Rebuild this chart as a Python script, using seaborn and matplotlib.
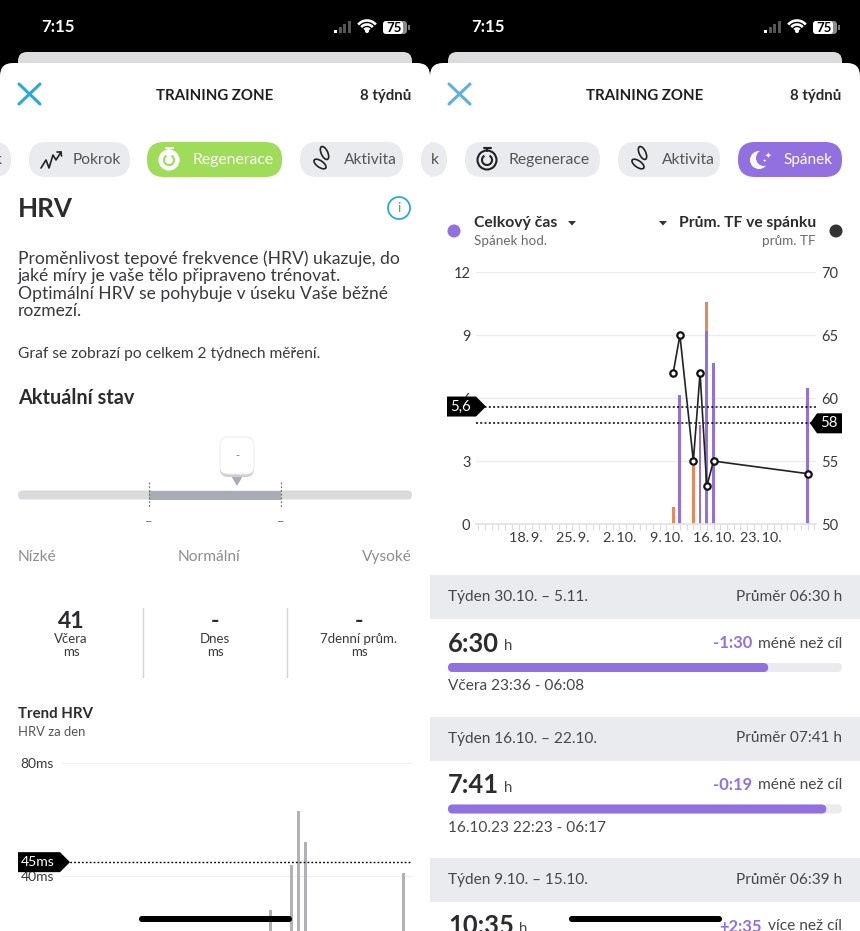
import numpy as np
import pandas as pd
import matplotlib
matplotlib.use("Agg")
import matplotlib.pyplot as plt
import seaborn as sns
from matplotlib.patches import FancyBboxPatch, Circle, Ellipse, Polygon, Arc, Rectangle

# =========================
# Data (day number counted from 11.9.)
# =========================
sleep_days = [29, 30, 32, 33, 34, 35, 49]
sleep_purple = [0, 6.15, 0, 4.7, 9.18, 7.68, 6.5]
sleep_orange = [0.8, 0, 2.77, 0, 1.4, 0, 0]
hr_days = [29, 30, 32, 33, 34, 35, 49]
hr_values = [62, 65, 55, 62, 53, 55, 54]
date_ticks = [7, 14, 21, 28, 35, 42]
date_labels = ["18.\u20099.", "25.\u20099.", "2.\u200910.", "9.\u200910.", "16.\u200910.", "23.\u200910."]
sleep_avg = 5.6
hr_avg = 58

hrv_days = [30, 33, 34, 35, 49]
hrv_values = [28, 44, 63, 52, 41]
hrv_avg = 45

week_labels = ["Týden 30.10. – 5.11.", "Týden 16.10. – 22.10.", "Týden 9.10. – 15.10."]
week_means = ["Průměr 06:30 h", "Průměr 07:41 h", "Průměr 06:39 h"]
week_big = ["6:30", "7:41", "10:35"]
week_diff = ["-1:30", "-0:19", "+2:35"]
week_word = ["méně než cíl", "méně než cíl", "více než cíl"]
week_hours = [6.5, 7.68, 10.58]
week_night = ["Včera 23:36 - 06:08", "16.10.23 22:23 - 06:17", ""]
sleep_goal = 8

W, H = 860, 931
PURPLE = "#9370e0"
ORANGE = "#e8875a"
GREEN = "#9fdc5a"
DARK = "#2c2c2f"
TXT = "#3a3a3d"
GREY = "#8c8e91"
CHIP = "#e9ebef"
GRID = "#ececef"
BLUE = "#2aa9dc"

sns.set_theme(style="white")
plt.rcParams["font.family"] = ["Lato", "DejaVu Sans"]

fig = plt.figure(figsize=(W / 100, H / 100), dpi=100, facecolor="black")


def ax_px(x0, y0, x1, y1):
    return fig.add_axes([x0 / W, 1 - y1 / H, (x1 - x0) / W, (y1 - y0) / H])


def overlay(z):
    a = ax_px(0, 0, W, H)
    a.set_xlim(0, W)
    a.set_ylim(H, 0)
    a.axis("off")
    a.patch.set_alpha(0)
    a.set_zorder(z)
    return a


bg = overlay(0)
fg = overlay(5)


def t(x, y, s, px=14, color=TXT, ha="left", weight="normal", ax=None, z=6):
    return (ax or bg).text(x, y + 1, s, fontsize=px * 0.72, color=color, ha=ha, va="center",
                           fontweight=weight, zorder=z)


def box(x0, y0, x1, y1, r, color, ax=None, z=1, clip=None, ec="none"):
    a = ax or bg
    p = FancyBboxPatch((x0, y0), x1 - x0, y1 - y0, boxstyle=f"round,pad=0,rounding_size={r}",
                       fc=color, ec=ec, lw=0.8, zorder=z)
    a.add_patch(p)
    if clip is not None:
        p.set_clip_path(Rectangle((clip[0], 0), clip[1] - clip[0], H, transform=a.transData))
    return p


def line(xs, ys, color=DARK, lw=1.3, ls="-", z=3, ax=None):
    (ax or bg).plot(xs, ys, color=color, lw=lw, ls=ls, zorder=z, solid_capstyle="round")


def right_end(txt):
    fig.canvas.draw()
    return bg.transData.inverted().transform(txt.get_window_extent().get_points())


# =========================
# Phone frame
# =========================
def phone(ox, xcolor):
    t(ox + 41, 26, "7:15", 16.8, "white", weight="bold")
    for i, (h, c) in enumerate(zip([3, 6, 9, 12], ["white", "#555", "#555", "#555"])):
        bg.add_patch(Rectangle((ox + 334 + i * 4.6, 33 - h), 3, h, fc=c, ec="none"))
    for r in [3.5, 7.5, 11.5]:
        bg.add_patch(Arc((ox + 367, 32), r * 2, r * 2, theta1=220, theta2=320, ec="white", lw=1.9))
    bg.add_patch(Circle((ox + 367, 31), 1.3, fc="white"))
    box(ox + 383, 21, ox + 407, 34, 3.5, "#8a8a8a", z=2)
    box(ox + 383, 21, ox + 403, 34, 3.5, "white", z=2)
    bg.add_patch(Rectangle((ox + 408, 25), 1.5, 5, fc="#777", ec="none"))
    bg.text(ox + 394, 27.5, "75", fontsize=9.5, fontweight="bold", color="black", ha="center", va="center", zorder=3)

    box(ox + 18, 52, ox + 412, 90, 9, "#dcdcde", z=1)
    box(ox, 63, ox + 430, 980, 13, "white", z=1.5)
    line([ox + 19, ox + 40], [84, 104], xcolor, 2.2)
    line([ox + 19, ox + 40], [104, 84], xcolor, 2.2)
    t(ox + 215, 95, "TRAINING ZONE", 15, "#1f1f21", "center", "bold")
    t(ox + 411, 95, "8 týdnů", 15, "#2a2a2c", "right", "bold")

    # home indicator
    box(ox + 139, 916, ox + 292, 922, 3, "black", ax=fg, z=10)


phone(0, BLUE)
phone(430, "#5db1dc")


def stopwatch(x, y, color, bgcolor):
    bg.add_patch(Circle((x, y + 1), 9.5, fc="none" if bgcolor is None else bgcolor, ec=color, lw=1.5, zorder=3))
    bg.add_patch(Arc((x, y + 1), 10, 10, theta1=-60, theta2=240, ec=color if bgcolor is None else GREEN, lw=1.5, zorder=4))
    line([x - 3.5, x + 3.5], [y - 11, y - 11], color, 1.5)
    line([x, x], [y - 11, y - 8], color, 1.5)


def feet(x, y):
    for dx, dy, ang in [(2.5, -6, 65), (-2, 5, 35)]:
        bg.add_patch(Ellipse((x + dx, y + dy), 14, 6.5, angle=ang, fc="none", ec="#222", lw=1.2, zorder=3))


# left phone chips
right_clip = (430, 860)
left_clip = (0, 430)
box(-30, 142, 11, 177, 17, CHIP, z=2)
t(-6, 159, "k", 15.5, "#555")
box(29, 142, 130, 177, 17, CHIP, z=2)
line([41, 46, 49, 53, 56, 61], [168, 160, 168, 155, 160, 152], "#222", 1.2)
line([57, 61, 61.5], [152, 152, 156], "#222", 1.2)
t(73, 159, "Pokrok", 15.5, "#555")
box(147, 142, 282, 177, 17, GREEN, z=2)
stopwatch(169, 159, "white", "white")
t(192, 159, "Regenerace", 15.8, "white")
box(300, 142, 403, 177, 17, CHIP, z=2)
feet(322, 159)
t(344, 159, "Aktivita", 15.5, "#555")
box(421, 142, 460, 177, 17, CHIP, z=2, clip=left_clip)

# right phone chips
box(400, 142, 447, 177, 17, CHIP, z=2, clip=right_clip)
t(431, 159, "k", 15.5, "#555")
box(465, 142, 600, 177, 17, CHIP, z=2)
stopwatch(487, 159, "#222", None)
t(509, 159, "Regenerace", 15.8, "#555")
box(618, 142, 720, 177, 17, CHIP, z=2)
feet(640, 159)
t(662, 159, "Aktivita", 15.5, "#555")
box(738, 142, 842, 177, 17, PURPLE, z=2)
bg.add_patch(Circle((759, 160), 9, fc="white", ec="none", zorder=3))
bg.add_patch(Circle((764, 158), 8, fc=PURPLE, ec="none", zorder=4))
t(768, 154, "✦", 8, "white", "center")
t(765, 160, "✦", 4, "white", "center")
t(783, 159, "Spánek", 15.3, "white")

# =========================
# Left phone content
# =========================
t(18, 208, "HRV", 26, DARK, weight="bold")
bg.add_patch(Circle((399, 208), 11, fc="none", ec=BLUE, lw=1.3, zorder=3))
t(399, 207, "i", 14, BLUE, "center")
for yy, s in zip([258, 275, 292.5, 310], [
        "Proměnlivost tepové frekvence (HRV) ukazuje, do",
        "jaké míry je vaše tělo připraveno trénovat.",
        "Optimální HRV se pohybuje v úseku Vaše běžné",
        "rozmezí."]):
    t(18, yy, s, 17.5, TXT)
t(18, 353, "Graf se zobrazí po celkem 2 týdnech měření.", 15.5, TXT)
t(18, 397, "Aktuální stav", 19.9, DARK, weight="bold")

box(18, 490.5, 412, 499.5, 4.5, "#d8dadc", z=2)
bg.add_patch(Rectangle((149, 490.5), 132, 9, fc="#a9abb5", ec="none", zorder=3))
for xx in [149, 281]:
    line([xx, xx], [482, 507], "#777", 0.9, (0, (1.5, 1.5)), z=4)
    t(xx, 521, "–", 13, "#777", "center")
bg.add_patch(Polygon([[230, 474], [244, 474], [237, 486]], fc="#a9abb5", ec="none", zorder=4))
box(220, 440, 254, 477, 8, "#cfcfd2", z=4)
box(220, 437, 254, 474, 8, "white", z=5, ec="#eeeeef")
bg.text(237, 456, "-", fontsize=8, color="#777", ha="center", va="center", zorder=6)
t(18, 556, "Nízké", 15.5, GREY)
t(209, 556, "Normální", 15.5, GREY, "center")
t(412, 556, "Vysoké", 15.5, GREY, "right")

for xx, big, lab in zip([71, 215, 359], ["41", "-", "-"], ["Včera", "Dnes", "7denní prům."]):
    t(xx, 620, big, 23, DARK, "center", "bold")
    t(xx, 638, lab, 13.2, TXT, "center")
    t(xx, 651.5, "ms", 13.2, TXT, "center")
for xx in [143, 287]:
    line([xx, xx], [608, 677], "#d4d4d6", 1)
t(18, 713, "Trend HRV", 15, DARK, weight="bold")
t(18, 731, "HRV za den", 13, "#55565a")

# =========================
# Right phone legend
# =========================
bg.add_patch(Circle((454, 231), 6.5, fc=PURPLE, ec="none", zorder=3))
t(474, 222, "Celkový čas", 15.8, DARK, weight="bold")
bg.add_patch(Polygon([[568, 221], [576, 221], [572, 225.5]], fc="#333", ec="none", zorder=3))
t(474, 240, "Spánek hod.", 13.5, "#6a6b6e")
bg.add_patch(Polygon([[659, 221], [667, 221], [663, 225.5]], fc="#333", ec="none", zorder=3))
t(816, 222, "Prům. TF ve spánku", 15.6, DARK, "right", "bold")
t(816, 240, "prům. TF", 13.5, "#6a6b6e", "right")
bg.add_patch(Circle((836, 231), 6.5, fc="#333", ec="none", zorder=3))

# =========================
# Sleep chart
# =========================
df_sleep = pd.DataFrame({"den": sleep_days, "fialova": sleep_purple, "oranzova": sleep_orange})
df_sleep["celkem"] = df_sleep["fialova"] + df_sleep["oranzova"]
df_hr = pd.DataFrame({"den": hr_days, "tf": hr_values})

ax = ax_px(476, 272.3, 816, 524)
ax.set_zorder(2)
ax.patch.set_alpha(0)
sns.barplot(data=df_sleep, x="den", y="celkem", native_scale=True, color=ORANGE, saturation=1,
            width=0.42, errorbar=None, linewidth=0, ax=ax)
sns.barplot(data=df_sleep, x="den", y="fialova", native_scale=True, color=PURPLE, saturation=1,
            width=0.42, errorbar=None, linewidth=0, ax=ax)
ax.set_axisbelow(True)
ax.set_xlim(-0.34, 50.25)
ax.set_ylim(0, 12)
ax.set_yticks([0, 3, 6, 9, 12])
ax.yaxis.grid(True, color=GRID, lw=1)
ax.set_xticks(date_ticks)
ax.set_xticklabels(date_labels, fontsize=10.4, color=TXT)
ax.set_xticks(range(0, 51), minor=True)
ax.tick_params(axis="x", which="both", length=4, width=0.8, color="#dcdcdf", bottom=True, pad=2)
ax.tick_params(axis="y", length=0, pad=4, labelsize=10.5, labelcolor=TXT)
ax.set_xlabel("")
ax.set_ylabel("")
sns.despine(ax=ax, left=True, right=True, top=True)
ax.spines["bottom"].set_color("#e2e2e5")
ax.axhline(sleep_avg, color="black", lw=1.1, ls=(0, (1.3, 1.5)), clip_on=False)

ax2 = ax.twinx()
ax2.set_zorder(3)
ax2.patch.set_alpha(0)
sns.lineplot(data=df_hr, x="den", y="tf", color="#222", lw=1.2, marker="o", markersize=4.6,
             mfc="white", mec="#111", mew=1.6, errorbar=None, ax=ax2, zorder=5)
ax2.set_ylim(50, 70)
ax2.set_yticks([50, 55, 60, 65, 70])
ax2.tick_params(axis="y", length=0, pad=4, labelsize=10.5, labelcolor=TXT)
ax2.set_xlabel("")
ax2.set_ylabel("")
sns.despine(ax=ax2, left=True, right=True, top=True, bottom=True)
ax2.axhline(hr_avg, color="black", lw=1.1, ls=(0, (1.3, 1.5)))

# average tags
ys = 524 - sleep_avg / 12 * (524 - 272.3)
fg.add_patch(Polygon([[447, ys - 10], [476, ys - 10], [486, ys], [476, ys + 10], [447, ys + 10]], fc="black", ec="none"))
t(461, ys - 1, "5,6", 15, "white", "center", ax=fg)
yh = 524 - (hr_avg - 50) / 20 * (524 - 272.3)
fg.add_patch(Polygon([[842, yh - 10], [817, yh - 10], [810, yh], [817, yh + 10], [842, yh + 10]], fc="black", ec="none"))
t(829, yh - 1, "58", 15, "white", "center", ax=fg)

# =========================
# HRV chart
# =========================
df_hrv = pd.DataFrame({"den": hrv_days, "hrv": hrv_values})
ax3 = ax_px(61.7, 763, 412, 931)
ax3.set_zorder(2)
ax3.patch.set_alpha(0)
sns.barplot(data=df_hrv, x="den", y="hrv", native_scale=True, color="#b0b2b6", saturation=1,
            width=0.42, errorbar=None, linewidth=0, ax=ax3)
ax3.set_axisbelow(True)
ax3.set_xlim(0.14, 50.19)
ax3.set_ylim(20.7, 80)
ax3.set_yticks([40, 80])
ax3.set_yticklabels(["40ms", "80ms"])
ax3.set_xticks([])
ax3.yaxis.grid(True, color="#f0f0f2", lw=1)
ax3.tick_params(axis="y", length=0, pad=5.5, labelsize=10, labelcolor=TXT)
ax3.set_xlabel("")
ax3.set_ylabel("")
sns.despine(ax=ax3, left=True, right=True, top=True, bottom=True)
ax3.axhline(hrv_avg, color="black", lw=1.0, ls=(0, (1.3, 1.5)))
yv = 763 + (80 - hrv_avg) / (80 - 20.7) * (931 - 763)
fg.add_patch(Polygon([[18, yv - 10], [60, yv - 10], [70, yv], [60, yv + 10], [18, yv + 10]], fc="black", ec="none"))
t(38, yv - 1, "45ms", 14, "white", "center", ax=fg)

# =========================
# Weekly list
# =========================
for i, band in enumerate([575, 716.5, 858]):
    bg.add_patch(Rectangle((430, band), 430, 44, fc=CHIP, ec="none", zorder=2))
    t(448, band + 21, week_labels[i], 15.4, "#46474a")
    t(842, band + 21, week_means[i], 15.4, "#46474a", "right")
    big = t(448, band + 67.5, week_big[i], 25.5, DARK, weight="bold")
    end = right_end(big)[1][0]
    t(end + 5, band + 70, "h", 15, "#46474a")
    word = t(842, band + 67.5, week_word[i], 15.5, "#46474a", "right")
    start = right_end(word)[0][0]
    t(start - 6, band + 67.5, week_diff[i], 16.5, PURPLE, "right", "bold")
    if i < 2:
        box(448, band + 88, 842, band + 97, 4.5, CHIP, z=2)
        box(448, band + 88, 448 + min(week_hours[i] / sleep_goal, 1) * 394, band + 97, 4.5, PURPLE, z=3)
        t(448, band + 110.5, week_night[i], 15.4, "#46474a")

fig.savefig("out.png", dpi=100, facecolor="black")
